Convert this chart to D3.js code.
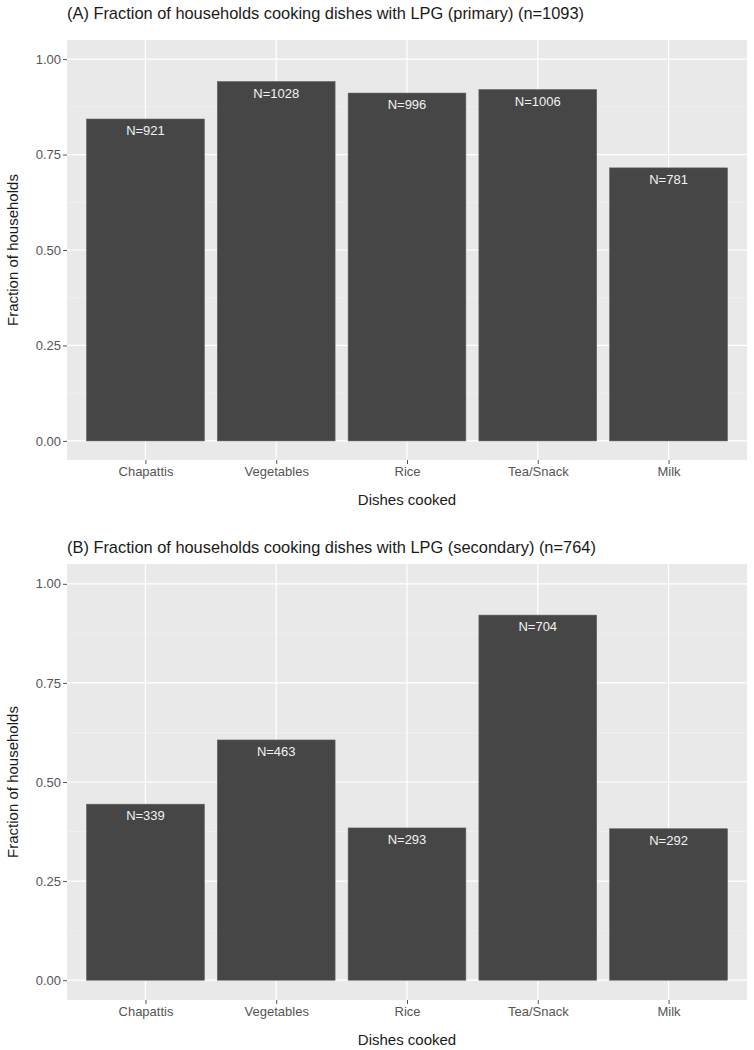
<!DOCTYPE html>
<html>
<head>
<meta charset="utf-8">
<script src="https://cdn.jsdelivr.net/npm/d3@7"></script>
<style>
  html, body { margin: 0; padding: 0; background: #ffffff; }
  svg { display: block; font-family: "Liberation Sans", Arial, sans-serif; }
</style>
</head>
<body>
<svg id="chart" width="754" height="1050"></svg>
<script>
// ---- Data ----
const categories = ["Chapattis", "Vegetables", "Rice", "Tea/Snack", "Milk"];
const primaryCounts = [921, 1028, 996, 1006, 781];
const primaryFractions = [0.843, 0.941, 0.911, 0.920, 0.715];
const secondaryCounts = [339, 463, 293, 704, 292];
const secondaryFractions = [0.444, 0.606, 0.384, 0.921, 0.382];
const yTicks = [0, 0.25, 0.5, 0.75, 1.0];
const yTickLabels = ["0.00", "0.25", "0.50", "0.75", "1.00"];
const titles = [
  "(A) Fraction of households cooking dishes with LPG (primary) (n=1093)",
  "(B) Fraction of households cooking dishes with LPG (secondary) (n=764)"
];
const xTitle = "Dishes cooked";
const yTitle = "Fraction of households";

const svg = d3.select("#chart");
const FONT = "'Liberation Sans', Arial, sans-serif";

function panel(cfg) {
  const { top, bottom, left, right, title, titleY, values, counts } = cfg;
  const g = svg.append("g");

  // scales (ggplot-like expansion)
  const x = d3.scaleLinear().domain([0.4, categories.length + 0.6]).range([left, right]);
  const y = d3.scaleLinear().domain([-0.05, 1.05]).range([bottom, top]);
  const barW = x(0.9) - x(0);

  // title
  g.append("text")
    .attr("x", left).attr("y", titleY)
    .attr("font-size", 16.4).attr("fill", "#1a1a1a")
    .text(title);

  // panel background
  g.append("rect")
    .attr("x", left).attr("y", top)
    .attr("width", right - left).attr("height", bottom - top)
    .attr("fill", "#e9e9e9");

  // minor grid
  const minor = [0.125, 0.375, 0.625, 0.875];
  g.selectAll(".minor").data(minor).join("line")
    .attr("x1", left).attr("x2", right)
    .attr("y1", d => y(d)).attr("y2", d => y(d))
    .attr("stroke", "#f3f3f3").attr("stroke-width", 0.6);

  // major grid
  g.selectAll(".hmaj").data(yTicks).join("line")
    .attr("x1", left).attr("x2", right)
    .attr("y1", d => y(d)).attr("y2", d => y(d))
    .attr("stroke", "#ffffff").attr("stroke-width", 1.2);
  g.selectAll(".vmaj").data(categories).join("line")
    .attr("x1", (d, i) => x(i + 1)).attr("x2", (d, i) => x(i + 1))
    .attr("y1", top).attr("y2", bottom)
    .attr("stroke", "#ffffff").attr("stroke-width", 1.2);

  // bars
  g.selectAll(".bar").data(values).join("rect")
    .attr("x", (d, i) => x(i + 1) - barW / 2)
    .attr("width", barW)
    .attr("y", d => y(d))
    .attr("height", d => y(0) - y(d))
    .attr("fill", "#464646")
    .attr("stroke", "#5a5a5a").attr("stroke-width", 0.6);

  // bar labels
  g.selectAll(".lbl").data(values).join("text")
    .attr("x", (d, i) => x(i + 1))
    .attr("y", d => y(d) + 16)
    .attr("text-anchor", "middle")
    .attr("font-size", 13).attr("fill", "#f2f2f2")
    .text((d, i) => "N=" + counts[i]);

  // y axis
  const yAxis = d3.axisLeft(y).tickValues(yTicks).tickSize(4).tickPadding(2)
    .tickFormat((d, i) => yTickLabels[i]);
  const ya = g.append("g").attr("transform", `translate(${left},0)`).call(yAxis);
  ya.select(".domain").remove();
  ya.selectAll("line").attr("stroke", "#555");
  ya.selectAll("text").attr("font-size", 13).attr("fill", "#555")
    .attr("font-family", FONT);

  // x axis
  const xAxis = d3.axisBottom(x).tickValues(categories.map((d, i) => i + 1))
    .tickSize(4).tickPadding(3).tickFormat((d) => categories[d - 1]);
  const xa = g.append("g").attr("transform", `translate(0,${bottom})`).call(xAxis);
  xa.select(".domain").remove();
  xa.selectAll("line").attr("stroke", "#555");
  xa.selectAll("text").attr("font-size", 13).attr("fill", "#555")
    .attr("font-family", FONT);

  // axis titles
  g.append("text")
    .attr("x", (left + right) / 2).attr("y", bottom + 45)
    .attr("text-anchor", "middle").attr("font-size", 15).attr("fill", "#1a1a1a")
    .text(xTitle);
  g.append("text")
    .attr("transform", `translate(18,${(top + bottom) / 2}) rotate(-90)`)
    .attr("text-anchor", "middle").attr("font-size", 15).attr("fill", "#1a1a1a")
    .text(yTitle);
}

panel({ top: 40, bottom: 460, left: 67, right: 747, title: titles[0], titleY: 19,
        values: primaryFractions, counts: primaryCounts });
panel({ top: 564, bottom: 1000, left: 67, right: 747, title: titles[1], titleY: 553,
        values: secondaryFractions, counts: secondaryCounts });
</script>
</body>
</html>
